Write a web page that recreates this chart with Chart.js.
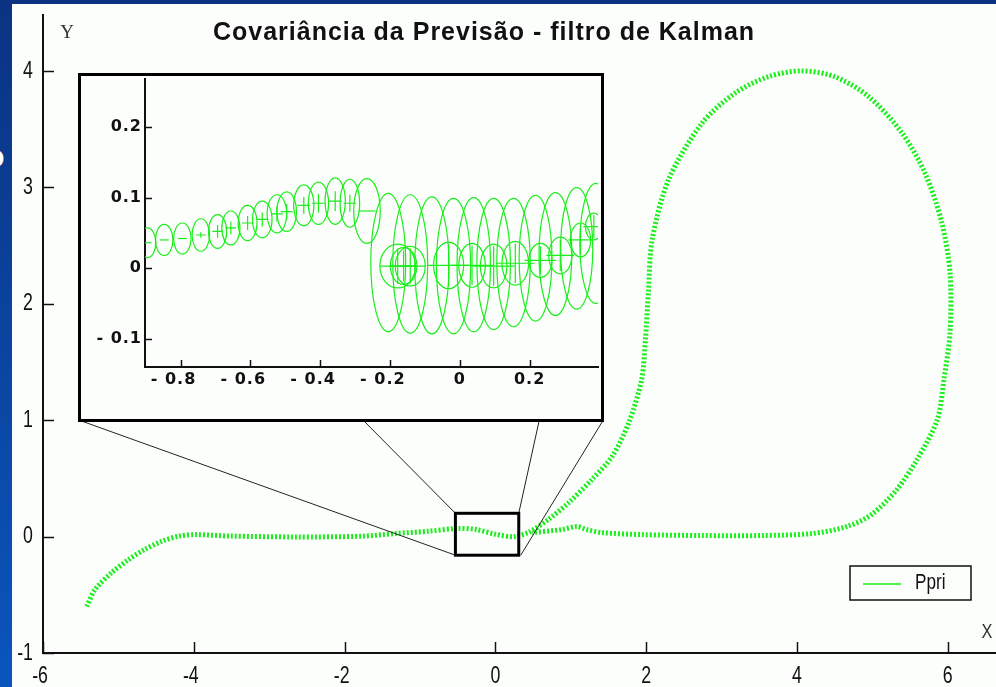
<!DOCTYPE html>
<html>
<head>
<meta charset="utf-8">
<script src="https://cdn.jsdelivr.net/npm/chart.js@4.4.1/dist/chart.umd.min.js"></script>
<style>
    body { margin: 0; width: 996px; height: 687px; overflow: hidden; position: relative;
           background: linear-gradient(#0b3382, #0a55bd); }
    #main { position: absolute; left: 12px; top: 4px; width: 984px; height: 683px; background: #fcfefc; }
    #inset { position: absolute; left: 78px; top: 73px; width: 520px; height: 343px;
             border: 3px solid #000; background: #fcfefc; }
    .edge { position: absolute; left: -15px; top: 138px; color: #fff; font: bold 32px 'Liberation Sans', sans-serif; }
</style>
</head>
<body>
<span class="edge">o</span>
<div id="main"><canvas id="mainChart"></canvas></div>
<div id="inset"><canvas id="insetChart"></canvas></div>
<script>
// Ppri trajectory, points (in path order)
const trajX = [-5.42, -5.31, -5.09, -4.87, -4.65, -4.42, -4.20, -3.98, -3.54, -2.66, -1.77, -1.33, -0.89, -0.49, -0.25, 0.00, 0.25, 0.45,
               0.71, 0.97, 1.28, 1.55, 1.77, 1.94, 1.99, 2.03, 2.08, 2.30, 2.74, 3.18, 3.62, 4.06,
               4.50, 4.95, 5.39, 5.70, 5.92, 6.03, 6.03, 5.95, 5.86, 5.59, 5.32, 4.99, 4.66, 4.20, 3.53, 2.74, 1.94, 1.41, 1.21, 1.08, 0.88, 0.49];
const trajY = [-0.60, -0.455, -0.31, -0.20, -0.11, -0.04, 0.003, 0.017, 0.005, -0.003, 0.003, 0.026, 0.046, 0.07, 0.06, 0.02, 0.0, 0.04,
               0.15, 0.29, 0.49, 0.69, 0.98, 1.35, 1.69, 2.10, 2.55, 3.07, 3.55, 3.81, 3.95, 4.00,
               3.95, 3.78, 3.47, 3.12, 2.70, 2.27, 1.75, 1.35, 1.00, 0.66, 0.40, 0.19, 0.086, 0.026, 0.009, 0.009, 0.017, 0.034, 0.06, 0.086, 0.06, 0.034];
const mainXTicks = [-6, -4, -2, 0, 2, 4, 6];
const mainXLabels = ['-6', '-4', '-2', '0', '2', '4', '6'];
const mainYTicks = [-1, 0, 1, 2, 3, 4];
const mainYLabels = ['-1', '0', '1', '2', '3', '4'];
const zoomBox = [-0.53, 0.31, -0.16, 0.20];   // magnified region: xmin, xmax, ymin, ymax

// inset: covariance ellipses before the jump
const ellAx  = [-0.895, -0.847, -0.795, -0.742, -0.694, -0.656, -0.608, -0.566, -0.524, -0.496, -0.447, -0.405, -0.357, -0.315, -0.266];
const ellAy  = [0.036, 0.040, 0.042, 0.047, 0.052, 0.057, 0.064, 0.069, 0.077, 0.080, 0.089, 0.092, 0.095, 0.092, 0.081];
const ellArx = [0.024, 0.025, 0.025, 0.025, 0.026, 0.026, 0.027, 0.028, 0.028, 0.028, 0.029, 0.029, 0.029, 0.028, 0.038];
const ellAry = [0.021, 0.022, 0.022, 0.023, 0.024, 0.024, 0.025, 0.026, 0.027, 0.028, 0.029, 0.030, 0.033, 0.034, 0.046];
const ellAdx = [0.012, 0.013, 0.013, 0.014, 0.015, 0.015, 0.016, 0.016, 0.017, 0.017, 0.018, 0.018, 0.019, 0.018, 0.024];
const ellAdy = [0, 0, 0, 0.004, 0.009, 0.009, 0.010, 0.010, 0.011, 0.011, 0.012, 0.013, 0.014, 0.012, 0];
// tall prediction ellipses after the jump
const ellBx  = [-0.205, -0.142, -0.080, -0.018, 0.040, 0.097, 0.154, 0.217, 0.274, 0.335, 0.390];
const ellBy  = [0.008, 0.006, 0.004, 0.003, 0.005, 0.006, 0.008, 0.014, 0.020, 0.028, 0.035];
const ellBrx = [0.050, 0.050, 0.049, 0.049, 0.048, 0.048, 0.048, 0.047, 0.047, 0.046, 0.046];
const ellBry = [0.098, 0.098, 0.097, 0.096, 0.095, 0.093, 0.091, 0.089, 0.087, 0.086, 0.085];
// small ellipses with crosshairs
const ellCx  = [-0.178, -0.161, -0.142, -0.032, 0.035, 0.097, 0.159, 0.231, 0.288, 0.346, 0.384];
const ellCy  = [0.003, 0.003, 0.003, 0.004, 0.004, 0.003, 0.007, 0.011, 0.018, 0.040, 0.059];
const ellCrx = [0.051, 0.038, 0.043, 0.043, 0.038, 0.038, 0.038, 0.033, 0.033, 0.029, 0.024];
const ellCry = [0.031, 0.026, 0.028, 0.033, 0.031, 0.031, 0.031, 0.024, 0.026, 0.024, 0.019];
const ellCdx = [0.050, 0.040, 0.045, 0.060, 0.060, 0.060, 0.055, 0.045, 0.040, 0.035, 0.030];
const ellCdy = [0.025, 0.022, 0.025, 0.030, 0.028, 0.028, 0.028, 0.020, 0.022, 0.020, 0.016];
const insetXTicks = [-0.8, -0.6, -0.4, -0.2, 0, 0.2];
const insetXLabels = ['- 0.8', '- 0.6', '- 0.4', '- 0.2', '0', '0.2'];
const insetYTicks = [-0.1, 0, 0.1, 0.2];
const insetYLabels = ['- 0.1', '0', '0.1', '0.2'];

const green = '#1aee1a';

// inward tick marks on left/bottom axes
function drawInTicks(chart, len, width) {
    const { ctx, chartArea: a, scales: { x, y } } = chart;
    ctx.save();
    ctx.strokeStyle = '#111';
    ctx.lineWidth = width;
    ctx.beginPath();
    x.ticks.forEach(t => {
        const px = Math.round(x.getPixelForValue(t.value)) + 0.5;
        ctx.moveTo(px, a.bottom); ctx.lineTo(px, a.bottom - len);
    });
    y.ticks.forEach(t => {
        const py = Math.round(y.getPixelForValue(t.value)) + 0.5;
        ctx.moveTo(a.left, py); ctx.lineTo(a.left + len, py);
    });
    ctx.stroke();
    ctx.restore();
}

// tick labels placed through the scales; x labels keep the digits centred on the tick
function drawTickLabels(chart, o) {
    const { ctx, chartArea: a, scales: { x, y } } = chart;
    ctx.save();
    ctx.fillStyle = '#111';
    ctx.font = o.font;
    ctx.letterSpacing = o.spacing || '0px';
    ctx.textBaseline = 'middle';
    const put = (txt, px, py, align) => {
        ctx.save();
        ctx.translate(px, py);
        ctx.scale(o.sx, 1);
        ctx.textAlign = align;
        ctx.fillText(txt, 0, 0);
        ctx.restore();
    };
    x.ticks.forEach((t, i) => {
        const num = o.xLabels[i].replace(/^-\s*/, '');
        const w = ctx.measureText(num).width * o.sx;
        put(o.xLabels[i], x.getPixelForValue(t.value) + w / 2, a.bottom + o.xOff, 'right');
    });
    y.ticks.forEach((t, i) => put(o.yLabels[i], a.left - o.yOff, y.getPixelForValue(t.value), 'right'));
    ctx.restore();
}

const mainOverlay = {
    id: 'mainOverlay',
    afterDraw(chart) {
        const { ctx, chartArea: a, scales: { x, y } } = chart;
        drawInTicks(chart, 11, 1.5);
        drawTickLabels(chart, { font: "24px 'Liberation Sans', Arial, sans-serif", sx: 0.74,
            xLabels: mainXLabels, yLabels: mainYLabels, xOff: 23, yOff: 10 });
        ctx.save();
        // title and axis letters
        ctx.fillStyle = '#111';
        ctx.textAlign = 'center';
        ctx.textBaseline = 'middle';
        ctx.font = "bold 25px 'Liberation Sans', Arial, sans-serif";
        ctx.letterSpacing = '1px';
        ctx.fillText('Covariância da Previsão - filtro de Kalman', 472, 29);
        ctx.letterSpacing = '0px';
        ctx.font = "19px 'Liberation Serif', serif";
        ctx.fillStyle = '#333';
        ctx.fillText('Y', a.left + 24, 29);
        ctx.save();
        ctx.translate(a.right - 9, a.bottom - 21);
        ctx.scale(0.78, 1);
        ctx.font = "21px 'Liberation Sans', Arial, sans-serif";
        ctx.fillText('X', 0, 0);
        ctx.restore();

        // magnified region box
        const bx0 = x.getPixelForValue(zoomBox[0]), bx1 = x.getPixelForValue(zoomBox[1]);
        const by0 = y.getPixelForValue(zoomBox[2]), by1 = y.getPixelForValue(zoomBox[3]);
        // link lines to the inset frame
        const cr = chart.canvas.getBoundingClientRect();
        const ir = document.getElementById('inset').getBoundingClientRect();
        const fy = ir.bottom - cr.top - 1.5;
        const fx = f => ir.left - cr.left + 2 + f * (ir.width - 3);
        ctx.strokeStyle = '#222';
        ctx.lineWidth = 1;
        ctx.beginPath();
        ctx.moveTo(fx(0), fy); ctx.lineTo(bx0, by0);
        ctx.moveTo(fx(0.542), fy); ctx.lineTo(bx0, by1);
        ctx.moveTo(fx(0.878), fy); ctx.lineTo(bx1, by1);
        ctx.moveTo(fx(1), fy); ctx.lineTo(bx1 + 2, by0);
        ctx.stroke();
        ctx.strokeStyle = '#000';
        ctx.lineWidth = 3;
        ctx.strokeRect(bx0, by1, bx1 - bx0, by0 - by1);

        // legend
        const lx = a.right - 146, ly = a.bottom - 87;
        ctx.fillStyle = '#fcfefc';
        ctx.fillRect(lx, ly, 121, 34);
        ctx.strokeStyle = '#111';
        ctx.lineWidth = 1.5;
        ctx.strokeRect(lx, ly, 121, 34);
        ctx.strokeStyle = green;
        ctx.beginPath();
        ctx.moveTo(lx + 13, ly + 18); ctx.lineTo(lx + 51, ly + 18);
        ctx.stroke();
        ctx.fillStyle = '#111';
        ctx.translate(lx + 65, ly + 17);
        ctx.scale(0.78, 1);
        ctx.textAlign = 'left';
        ctx.font = "22px 'Liberation Sans', Arial, sans-serif";
        ctx.fillText(chart.data.datasets[0].label, 0, 0);
        ctx.restore();
    }
};

new Chart(document.getElementById('mainChart'), {
    type: 'line',
    data: {
        datasets: [{
            label: 'Ppri',
            data: trajX.map((v, i) => ({ x: v, y: trajY[i] })),
            borderColor: green,
            borderWidth: 5,
            borderDash: [2, 2],
            pointRadius: 0,
            tension: 0.3,
            fill: false
        }]
    },
    options: {
        responsive: true,
        maintainAspectRatio: false,
        animation: false,
        layout: { padding: { top: 11, right: 0, left: 0, bottom: 0 } },
        plugins: { legend: { display: false }, tooltip: { enabled: false } },
        scales: {
            x: {
                type: 'linear', min: -6, max: 6.64,
                grid: { display: false, drawTicks: false },
                border: { display: true, color: '#111', width: 2 },
                ticks: { display: false },
                afterBuildTicks: s => { s.ticks = mainXTicks.map(v => ({ value: v })); },
                afterFit: s => { s.height = 34; s.paddingLeft = 0; s.paddingRight = 0; }
            },
            y: {
                type: 'linear', min: -1, max: 4.48,
                grid: { display: false, drawTicks: false },
                border: { display: true, color: '#111', width: 2 },
                ticks: { display: false },
                afterBuildTicks: s => { s.ticks = mainYTicks.map(v => ({ value: v })); },
                afterFit: s => { s.width = 31; s.paddingTop = 0; s.paddingBottom = 0; }
            }
        }
    },
    plugins: [mainOverlay]
});

// inset: ellipses drawn through the inset scales
const ellipseGroups = [
    { cx: ellAx, cy: ellAy, rx: ellArx, ry: ellAry, dx: ellAdx, dy: ellAdy },
    { cx: ellBx, cy: ellBy, rx: ellBrx, ry: ellBry, dx: null, dy: null },
    { cx: ellCx, cy: ellCy, rx: ellCrx, ry: ellCry, dx: ellCdx, dy: ellCdy }
];
const ellipsePlugin = {
    id: 'ellipses',
    afterDatasetsDraw(chart) {
        const { ctx, chartArea: a, scales: { x, y } } = chart;
        ctx.save();
        ctx.beginPath();
        ctx.rect(a.left, a.top, a.right - a.left, a.bottom - a.top);
        ctx.clip();
        ctx.strokeStyle = green;
        ctx.lineWidth = 1.2;
        ellipseGroups.forEach(g => {
            g.cx.forEach((cx, i) => {
                const px = x.getPixelForValue(cx), py = y.getPixelForValue(g.cy[i]);
                const rx = Math.abs(x.getPixelForValue(cx + g.rx[i]) - px);
                const ry = Math.abs(y.getPixelForValue(g.cy[i] + g.ry[i]) - py);
                ctx.beginPath();
                ctx.ellipse(px, py, rx, ry, 0, 0, Math.PI * 2);
                ctx.stroke();
                if (g.dx) {
                    const hx = Math.abs(x.getPixelForValue(cx + g.dx[i]) - px);
                    const hy = Math.abs(y.getPixelForValue(g.cy[i] + g.dy[i]) - py);
                    ctx.beginPath();
                    ctx.moveTo(px - hx, py); ctx.lineTo(px + hx, py);
                    if (hy) { ctx.moveTo(px, py - hy); ctx.lineTo(px, py + hy); }
                    ctx.stroke();
                }
            });
        });
        ctx.restore();
        drawInTicks(chart, 7, 1.5);
        drawTickLabels(chart, { font: "bold 16px 'DejaVu Sans', sans-serif", sx: 1, spacing: '1px',
            xLabels: insetXLabels, yLabels: insetYLabels, xOff: 13, yOff: 3 });
    }
};

new Chart(document.getElementById('insetChart'), {
    type: 'scatter',
    data: {
        datasets: [{
            label: 'centros',
            data: ellAx.map((v, i) => ({ x: v, y: ellAy[i] })),
            pointRadius: 0
        }]
    },
    options: {
        responsive: true,
        maintainAspectRatio: false,
        animation: false,
        layout: { padding: { top: 3, right: 3, left: 0, bottom: 0 } },
        plugins: { legend: { display: false }, tooltip: { enabled: false } },
        scales: {
            x: {
                type: 'linear', min: -0.902, max: 0.396,
                grid: { display: false, drawTicks: false },
                border: { display: true, color: '#111', width: 2 },
                ticks: { display: false },
                afterBuildTicks: s => { s.ticks = insetXTicks.map(v => ({ value: v })); },
                afterFit: s => { s.height = 52; s.paddingLeft = 0; s.paddingRight = 0; }
            },
            y: {
                type: 'linear', min: -0.140, max: 0.268,
                grid: { display: false, drawTicks: false },
                border: { display: true, color: '#111', width: 2 },
                ticks: { display: false },
                afterBuildTicks: s => { s.ticks = insetYTicks.map(v => ({ value: v })); },
                afterFit: s => { s.width = 64; s.paddingTop = 0; s.paddingBottom = 0; }
            }
        }
    },
    plugins: [ellipsePlugin]
});
</script>
</body>
</html>
